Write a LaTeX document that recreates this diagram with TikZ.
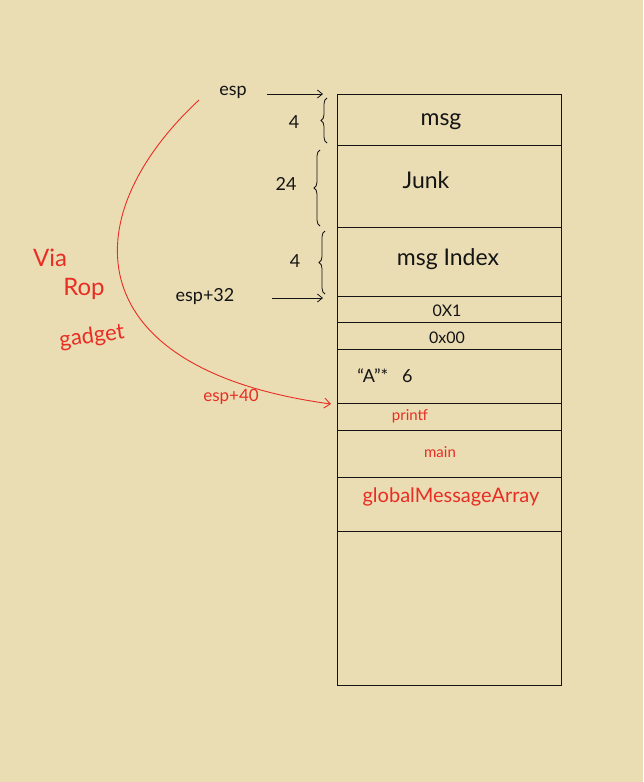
\documentclass[tikz,border=0pt]{standalone}
\usepackage{fontspec}
\setmainfont{Lato}
\usetikzlibrary{decorations.pathreplacing,arrows.meta}
\definecolor{paper}{RGB}{234,221,180}
\definecolor{ink}{RGB}{20,20,20}
\definecolor{redink}{RGB}{232,45,35}
\tikzset{
  big/.style={font=\fontsize{23}{25}\selectfont, text=ink, inner sep=0pt},
  mid/.style={font=\fontsize{18}{20}\selectfont, text=ink, inner sep=0pt},
  small/.style={font=\fontsize{16}{18}\selectfont, text=ink, inner sep=0pt},
  redlab/.style={font=\fontsize{17}{19}\selectfont, text=redink, inner sep=0pt},
  rowline/.style={draw=ink, line width=0.9pt},
  pointer/.style={draw=ink, line width=0.8pt, -{Straight Barb[length=5pt,width=8pt]}},
  bracestyle/.style={draw=ink, line width=0.8pt, decorate, decoration={brace, amplitude=6pt}}
}
\begin{document}
\begin{tikzpicture}[x=1pt,y=-1pt]
\fill[paper] (0,0) rectangle (643,782);
\useasboundingbox (0,0) rectangle (643,782);
% stack
\coordinate (tl) at (337,94);
\coordinate (br) at (561,685);
\draw[rowline] (tl) rectangle (br);
\foreach \yy in {145,227,296,322,349,403,430,477,531} {
  \draw[rowline] (337,\yy) -- (561,\yy);
}
\coordinate (r40) at (331,404);
% row texts
\node[big] (msg) at (441,122) {msg};
\node[big] (junk) at (426,180) {Junk};
\node[big] (msgidx) at (448,259) {msg Index};
\node[small] (ox1) at (447,311) {0X1};
\node[small] (ox00) at (447,338) {0x00};
\node[mid] (aaa) at (385,376) {“A”*\ \ \ 6};
\node[redlab, font=\fontsize{15}{17}\selectfont] (printf) at (410,416) {printf};
\node[redlab, font=\fontsize{15}{17}\selectfont] (mainf) at (440,452) {main};
\node[redlab, font=\fontsize{20}{22}\selectfont] (gma) at (451,497) {globalMessageArray};
% esp labels and arrows
\node[mid] (esp) at (233,92) {esp};
\coordinate (espA) at (267,94);
\coordinate (espB) at (323,94);
\draw[pointer] (espA) -- (espB);
\node[mid] (esp32) at (205,297) {esp+32};
\coordinate (e32A) at (272,298);
\coordinate (e32B) at (323,298);
\draw[pointer] (e32A) -- (e32B);
% braces
\draw[bracestyle] (327,143) -- (327,98);
\node[mid] (n4a) at (294,122) {4};
\draw[bracestyle] (320,226) -- (320,150);
\node[mid] (n24) at (286,184) {24};
\draw[bracestyle] (325,294) -- (325,231);
\node[mid] (n4b) at (295,261) {4};
% red ROP curve
\coordinate (ropstart) at (199,100);
\draw[draw=redink, line width=0.9pt, -{Straight Barb[length=6pt,width=10pt]}]
  (ropstart) .. controls (70,220) and (80,370) .. (r40);
\node[redlab] (esp40) at (231,397) {esp+40};
\node[redlab, font=\fontsize{24}{26}\selectfont] (via) at (50,258) {Via};
\node[redlab, font=\fontsize{24}{26}\selectfont] (rop) at (84,289) {Rop};
\node[redlab, font=\fontsize{22}{24}\selectfont, rotate=8] (gadget) at (92,337) {gadget};
\end{tikzpicture}
\end{document}
